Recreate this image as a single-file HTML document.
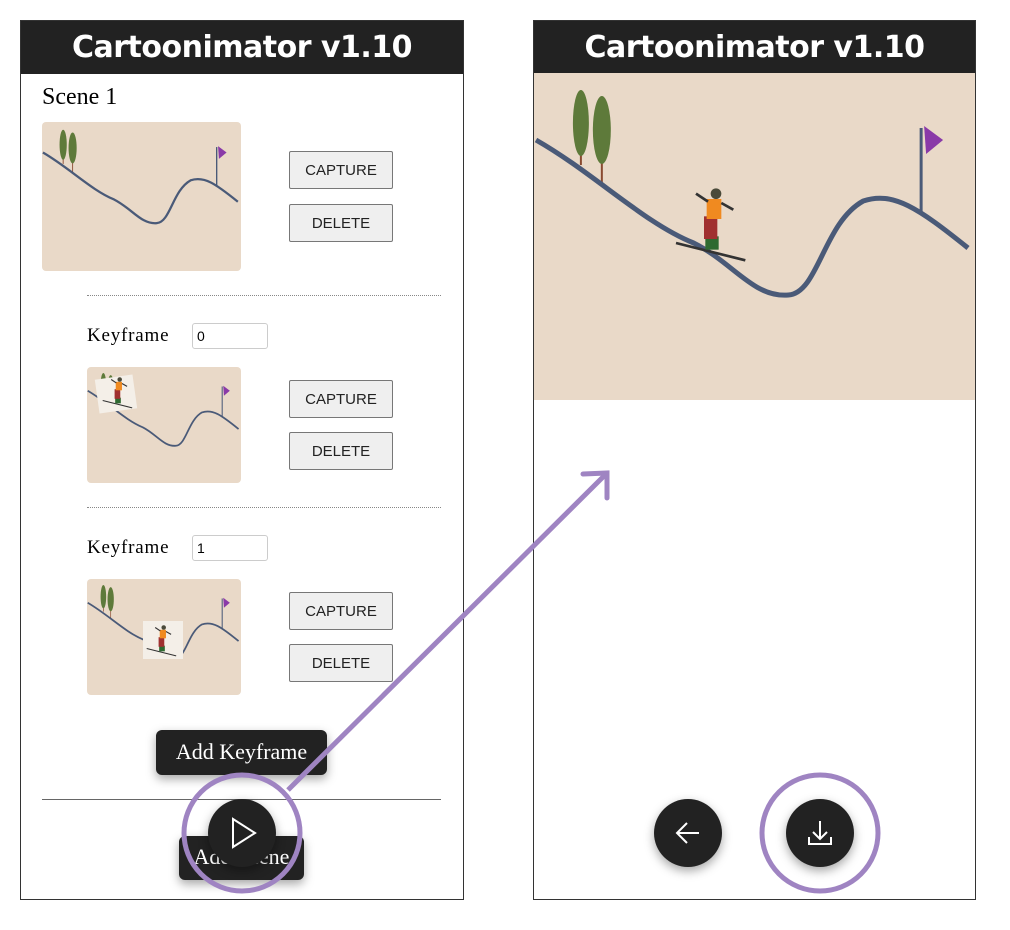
<!DOCTYPE html>
<html><head><meta charset="utf-8"><style>
body{margin:0;width:1010px;height:930px;background:#fff;position:relative;overflow:hidden;font-family:"Liberation Sans",sans-serif}
.abs{position:absolute}
.panel{position:absolute;border:1px solid #333;box-sizing:border-box;background:#fff}
.hdr{position:absolute;left:0;top:0;right:0;height:53px;background:#222;color:#fff;font-family:"DejaVu Sans",sans-serif;font-size:30px;font-weight:bold;text-align:center;line-height:53px;letter-spacing:-0.5px}
.btn{position:absolute;width:104px;height:38px;background:#efefef;border:1px solid #777;border-radius:2px;box-sizing:border-box;font-size:15px;color:#222;text-align:center;line-height:38px}
.thumb{position:absolute;border-radius:4px;overflow:hidden}
.serif{font-family:"Liberation Serif",serif}
.dark{position:absolute;background:#222;color:#fff;border-radius:6px;box-shadow:0 4px 10px rgba(0,0,0,.35);font-family:"Liberation Serif",serif;font-size:22px;text-align:center}
.fab{position:absolute;width:68px;height:68px;border-radius:50%;background:#222;box-shadow:0 4px 10px rgba(0,0,0,.35)}
.dots{position:absolute;height:0;border-top:1px dotted #888}
input{position:absolute;width:76px;height:26px;box-sizing:border-box;border:1px solid #ccc;border-radius:3px;font-size:14px;padding:2px 4px;font-family:"Liberation Sans",sans-serif}
</style></head><body>
<svg width="0" height="0" style="position:absolute"><defs>
<symbol id="scene" viewBox="0 0 442 327" preserveAspectRatio="none">
<rect width="442" height="327" fill="#e9d9c8"/>
<g stroke="#8a4a30" stroke-width="2"><line x1="47" y1="20" x2="47" y2="92"/><line x1="68" y1="25" x2="68" y2="110"/></g>
<g fill="#5e7a3a"><ellipse cx="47" cy="50" rx="8" ry="33"/><ellipse cx="68" cy="57" rx="9" ry="34"/></g>
<path d="M2,67 C60,100 110,150 160,170 C200,190 220,225 255,222 C285,220 290,150 330,128 C360,118 385,135 435,175" fill="none" stroke="#4a5a78" stroke-width="5"/>
<line x1="388" y1="55" x2="388" y2="140" stroke="#4a5a78" stroke-width="3"/>
<path d="M391,53 L410,67 L393,81 Z" fill="#8a3aa8"/>
</symbol>
<symbol id="skier" viewBox="0 0 60 60">
<line x1="3" y1="45" x2="55" y2="58" stroke="#333" stroke-width="2"/>
<rect x="25" y="40" width="10" height="10" fill="#2e6a30"/>
<rect x="24" y="25" width="10" height="17" fill="#a03030"/>
<rect x="26" y="12" width="11" height="15" fill="#f08a20"/>
<circle cx="33" cy="8" r="4" fill="#4a4a3a"/>
<line x1="27" y1="14" x2="18" y2="8" stroke="#333" stroke-width="2"/><line x1="37" y1="15" x2="46" y2="20" stroke="#333" stroke-width="2"/>
</symbol>
</defs></svg>

<div class="panel" style="left:20px;top:20px;width:444px;height:880px">
<div class="hdr">Cartoonimator v1.10</div>
</div>
<div class="abs serif" style="left:42px;top:84px;font-size:24px">Scene 1</div>
<div class="thumb" style="left:42px;top:122px;width:199px;height:149px"><svg width="199" height="149"><use href="#scene"/></svg></div>
<div class="btn" style="left:289px;top:151px">CAPTURE</div>
<div class="btn" style="left:289px;top:204px">DELETE</div>
<div class="dots" style="left:87px;top:295px;width:354px"></div>

<div class="abs serif" style="left:87px;top:325px;font-size:19px;letter-spacing:0.8px">Keyframe</div>
<input value="0" style="left:192px;top:323px">
<div class="thumb" style="left:87px;top:367px;width:154px;height:116px"><svg width="154" height="116"><use href="#scene"/><rect x="10" y="10" width="38" height="34" fill="#f4efe8" transform="rotate(-8 29 27)"/><use href="#skier" x="14" y="8" width="34" height="34"/></svg></div>
<div class="btn" style="left:289px;top:380px">CAPTURE</div>
<div class="btn" style="left:289px;top:432px">DELETE</div>
<div class="dots" style="left:87px;top:507px;width:354px"></div>

<div class="abs serif" style="left:87px;top:537px;font-size:19px;letter-spacing:0.8px">Keyframe</div>
<input value="1" style="left:192px;top:535px">
<div class="thumb" style="left:87px;top:579px;width:154px;height:116px"><svg width="154" height="116"><use href="#scene"/><rect x="56" y="42" width="40" height="38" fill="#f4efe8"/><use href="#skier" x="58" y="44" width="34" height="34"/></svg></div>
<div class="btn" style="left:289px;top:592px">CAPTURE</div>
<div class="btn" style="left:289px;top:644px">DELETE</div>

<div class="dark" style="left:156px;top:730px;width:171px;height:45px;line-height:43px">Add Keyframe</div>
<div class="abs" style="left:42px;top:799px;width:399px;height:1px;background:#666"></div>
<div class="dark" style="left:179px;top:836px;width:125px;height:44px;line-height:42px">Add Scene</div>
<div class="fab" style="left:208px;top:799px"><svg width="68" height="68"><path d="M25,20 L47,34 L25,48 Z" fill="none" stroke="#fff" stroke-width="2"/></svg></div>

<div class="panel" style="left:533px;top:20px;width:443px;height:880px">
<div class="hdr">Cartoonimator v1.10</div>
</div>
<div class="abs" style="left:534px;top:73px;width:441px;height:327px"><svg width="441" height="327"><use href="#scene"/><use href="#skier" x="138" y="100" width="80" height="100"/></svg></div>
<div class="fab" style="left:654px;top:799px"><svg width="68" height="68"><path d="M23,34 H45 M33,24 L23,34 L33,44" fill="none" stroke="#fff" stroke-width="2"/></svg></div>
<div class="fab" style="left:786px;top:799px"><svg width="68" height="68"><path d="M34,22 V40 M27,33 L34,40 L41,33 M23,38 V45 H45 V38" fill="none" stroke="#fff" stroke-width="2"/></svg></div>

<svg class="abs" style="left:0;top:0" width="1010" height="930">
<g fill="none" stroke="#9f84c2" stroke-width="5">
<circle cx="242" cy="833" r="58"/>
<circle cx="820" cy="833" r="58"/>
<line x1="288" y1="790" x2="606" y2="474"/>
<path d="M583,474 L607,473 L607,498" stroke-linecap="round"/>
</g>
</svg>
</body></html>
